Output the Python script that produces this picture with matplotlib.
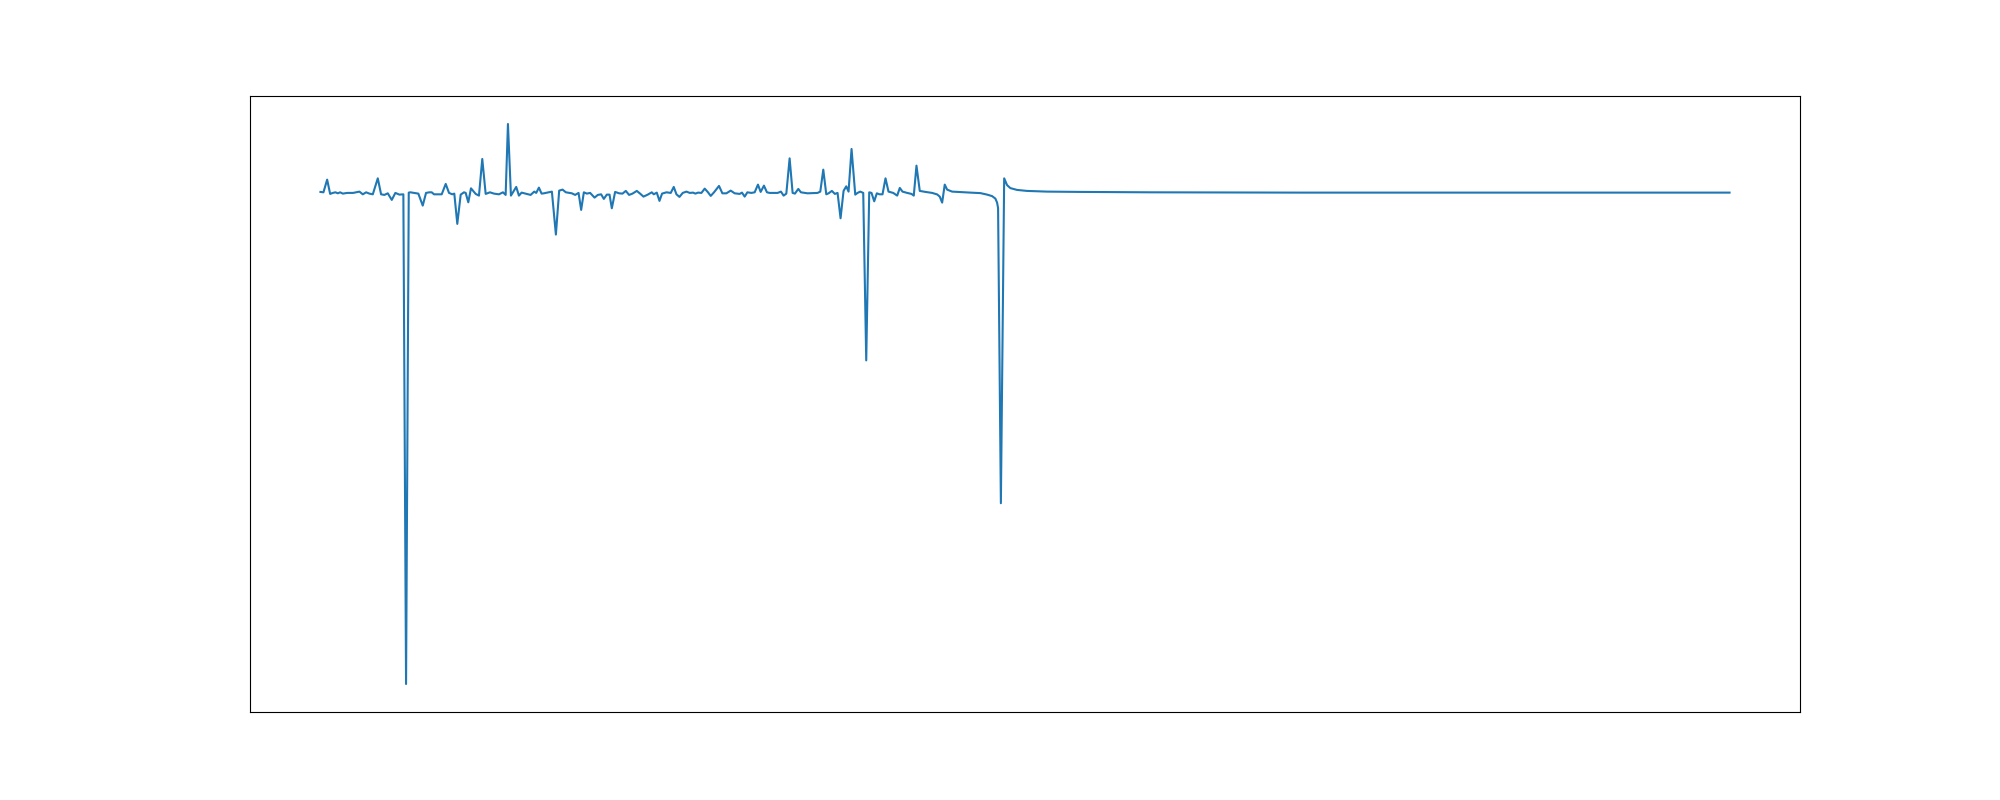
import matplotlib
matplotlib.use("Agg")
import matplotlib.pyplot as plt

# signal (sample position, level relative to baseline)
x = [0.3, 3.3, 7, 10, 12.7, 15.3, 17.7, 20, 22.7, 27, 33, 39.3, 42.7, 46, 49.3, 52.7,
     57.7, 61, 64.3, 67.7, 71.7, 75.3, 79.3, 83.3, 86, 88.7, 90.3, 93.7, 98.3, 102.7,
     106, 109.3, 111.7, 114, 121.7, 125.7, 129, 132.3, 134.3, 137.3, 140.7, 144, 145.7,
     148.3, 151, 155.7, 159, 162.3, 165.7, 170, 174, 179, 183, 185.7, 188, 191, 196.3,
     199, 201.7, 205.7, 210.7, 214.3, 216.3, 219, 221.7, 224, 232, 236, 239.3, 242.7,
     246, 252, 255.3, 258.7, 261.3, 264, 267, 270.3, 274.7, 278, 281.3, 284, 287, 289.7,
     292, 295.3, 299.3, 302.7, 306, 309.3, 312.7, 317, 320.3, 323.7, 328, 332, 334, 337,
     339.7, 342.3, 346.7, 351, 354, 356.7, 359.7, 363, 366.7, 370, 373.3, 375.7, 378.3,
     381.7, 385, 388.3, 391, 394.3, 399.3, 402.7, 406.7, 411, 415, 420, 422.3, 425,
     427.7, 431.7, 435, 438.3, 441, 444.3, 447.3, 450, 453, 458, 461.3, 464, 466.7, 470,
     473, 475.3, 478.7, 481.3, 488, 498, 500.7, 503.7, 506.7, 509, 512.3, 515.3, 518,
     521, 524, 526.7, 529, 532, 535.7, 538, 540.7, 543.7, 546.7, 549.7, 552, 554.7,
     557.3, 560, 563, 566, 569, 573.7, 577.7, 580.3, 583, 587.7, 592, 594.3, 597, 600.3,
     606, 612.7, 617.7, 620.3, 622.7, 625.3, 627.7, 632.7, 641, 651, 661, 667.7, 672.7,
     676, 677.7, 678.7, 681.5, 684.8, 687.7, 691, 697.7, 707.7, 727.7, 761, 831, 981, 1411]
y = [0.7, 0.3, 13, -1.3, -0.3, 0.3, -0.7, 0.3, -1, -0.3, -0.3, 1, -1.7, 0.3, -1, -1.7,
     14.3, -1.7, -2.3, -0.7, -7.3, -0.3, -2, -1.7, -492, 0, 0.3, -0.3, -1, -13,
     -0.3, 0.3, 0.3, -1.7, -1.7, 8.7, -0.3, -1.7, -1, -31.3, -2, 0.3, -0.3,
     -9.7, 4.3, -1.3, -3, 33.7, -1.3, 0.3, -1, -1.7, 0.3, -2.3, 68.7, -3, 5.7,
     -3, 0, -1, -2.3, 1, -0.3, 5, -1, -0.7, 1, -42, 2, 3,
     0.3, -0.7, -2.3, -0.3, -17.3, 0.3, -1, -0.3, -5, -2.3, -1.7, -6.3, -2, -2,
     -15.7, 0.7, -0.7, -1, 1.7, -2.3, -1, 1.7, -1, -4, -2, 0.3, -1.7, 0,
     -8.3, -1, 0.3, -0.3, 5.7, -1.7, -4.3, -0.3, 1, -0.3, 0, -1, 0,
     -0.3, 4, 0.3, -3.3, 0.3, 6.7, -0.7, -0.7, 2, -0.7, -1.3, 0, -4,
     0.3, -0.3, 0.3, 8, 0.7, 7, 0.3, -0.3, -0.3, -0.3, 1, -3, -1, 34.3,
     -0.3, -1, 3.7, 0.3, -0.7, -0.3, 1, 23, -1.7, -0.7, 1.7, -1.3, -0.3,
     -25.7, 1.7, 6.3, 1, 43.7, -2, -0.3, 1, -0.3, -168, 0.3, -0.3, -8.7,
     -0.7, -1.7, -1.7, 14.3, 1, -0.3, -3, 4.7, 1, -0.3, -1.3, -3, 27, 1.7,
     0.7, -0.3, -1.8, -4, -10, 8, 3, 1, 0.5, 0, -0.5, -2, -3.5,
     -6, -10, -15.5, -311, 14.3, 7.5, 4.5, 2.7, 1.7, 1, 0.7, 0.3, 0, 0]

fig, ax = plt.subplots(figsize=(20, 8), dpi=100)
ax.plot(x, y)
ax.set_xticks([])
ax.set_yticks([])
plt.savefig("out.png")
